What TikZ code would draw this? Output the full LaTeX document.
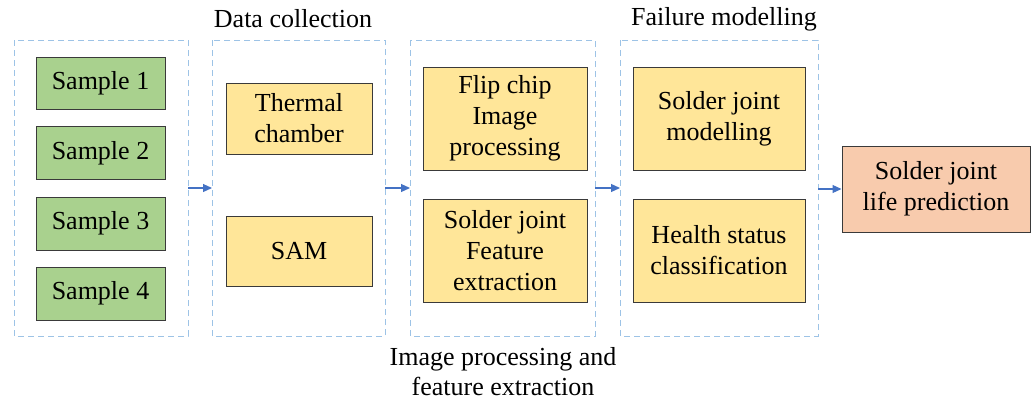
\documentclass[tikz,border=0pt]{standalone}
\usepackage{fontspec}
\setmainfont{Liberation Serif}
\newfontfamily\labelfont{Liberation Serif}
\usetikzlibrary{arrows.meta}
\definecolor{grpline}{HTML}{9DC3E6}
\definecolor{arrowblue}{HTML}{4472C4}
\definecolor{greenfill}{HTML}{A9D18E}
\definecolor{yellowfill}{HTML}{FFE699}
\definecolor{orangefill}{HTML}{F8CBAD}
\definecolor{boxline}{HTML}{3A3A3A}
\tikzset{
  grp/.style={draw=grpline, dash pattern=on 6pt off 4pt, line width=1pt},
  blk/.style={draw=boxline, line width=1pt, align=center, font=\labelfont\fontsize{26}{31}\selectfont, inner sep=0pt},
  samplebox/.style={blk, fill=greenfill},
  yellowbox/.style={blk, fill=yellowfill},
  resultbox/.style={blk, fill=orangefill},
  flow/.style={draw=arrowblue, line width=1.2pt, -{Triangle[length=9pt,width=8pt]}},
  caption/.style={font=\labelfont\fontsize{26}{30}\selectfont, align=center, inner sep=0pt}
}
\begin{document}
\begin{tikzpicture}[x=1pt,y=-1pt]
\useasboundingbox (0,0) rectangle (1036,405);
% stage frames
\draw[grp] (14,40) rectangle (188,336);
\draw[grp] (212,40) rectangle (385,336);
\draw[grp] (410,40) rectangle (595,336);
\draw[grp] (620,40) rectangle (818,336);
\coordinate (g1e) at (188,188);
\coordinate (g2w) at (212,188);
\coordinate (g2e) at (385,188);
\coordinate (g3w) at (410,188);
\coordinate (g3e) at (595,188);
\coordinate (g4w) at (620,188);
\coordinate (g4e) at (818,189);
% samples
\node[samplebox, minimum width=129pt, minimum height=52pt] (s1) at (100.5,83) {Sample 1};
\node[samplebox, minimum width=129pt, minimum height=53pt] (s2) at (100.5,153) {Sample 2};
\node[samplebox, minimum width=129pt, minimum height=53pt] (s3) at (100.5,223.5) {Sample 3};
\node[samplebox, minimum width=129pt, minimum height=53pt] (s4) at (100.5,293.5) {Sample 4};
% data collection
\node[yellowbox, minimum width=146pt, minimum height=71pt] (tc) at (299,118.5) {Thermal\\chamber};
\node[yellowbox, minimum width=146pt, minimum height=70pt] (sam) at (299,251) {SAM};
% image processing
\node[yellowbox, minimum width=164pt, minimum height=103pt] (fc) at (505,118.5) {Flip chip\\Image\\processing};
\node[yellowbox, minimum width=164pt, minimum height=103pt] (fe) at (505,250.5) {Solder joint\\Feature\\extraction};
% failure modelling
\node[yellowbox, minimum width=172pt, minimum height=103pt] (sjm) at (719,118.5) {Solder joint\\modelling};
\node[yellowbox, minimum width=172pt, minimum height=103pt] (hsc) at (719,250.5) {Health status\\classification};
% result
\node[resultbox, minimum width=188pt, minimum height=86pt] (res) at (936,189) {Solder joint\\life prediction};
% stage titles
\node[caption] (t1) at (293,19) {Data collection};
\node[caption] (t2) at (724,19) {Failure modelling};
\node[caption] (t3) at (503,372) {Image processing and\\feature extraction};
% flow arrows
\draw[flow] (g1e) -- (g2w);
\draw[flow] (g2e) -- (g3w);
\draw[flow] (g3e) -- (g4w);
\draw[flow] (g4e) -- (res.west);
\end{tikzpicture}
\end{document}
